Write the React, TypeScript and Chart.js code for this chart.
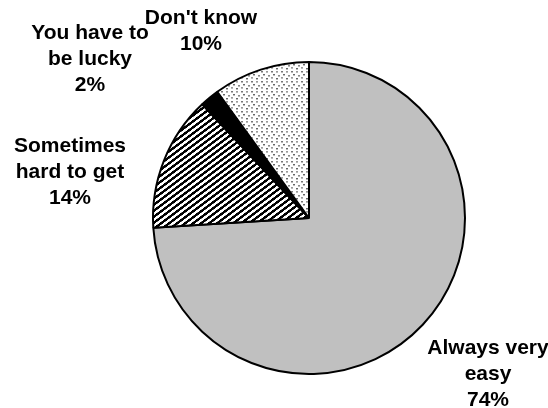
import React, { useEffect, useRef } from "react";
import { Chart, registerables } from "chart.js";

Chart.register(...registerables);

// Survey answers, clockwise from 12 o'clock
const categories = ["Always very easy", "Sometimes hard to get", "You have to be lucky", "Don't know"];
const shares = [74, 14, 2, 10];
// label lines (category text wrapped as drawn)
const labelLines = [
  ["Always very", "easy"],
  ["Sometimes", "hard to get"],
  ["You have to", "be lucky"],
  ["Don't know"],
];

// where each label block is centred (top line centre)
const labelAnchors = [
  { x: 488, y: 348 },
  { x: 70, y: 146 },
  { x: 90, y: 33 },
  { x: 201, y: 18 },
];

function makeHatch(): CanvasPattern | string {
  const c = document.createElement("canvas");
  c.width = 8;
  c.height = 6;
  const ctx = c.getContext("2d");
  if (!ctx) return "#000";
  const img = ctx.createImageData(8, 6);
  for (let y = 0; y < 6; y++) {
    for (let x = 0; x < 8; x++) {
      const ph = ((y + 0.75 * x) % 6) / 6;
      // soft edges
      let v = 255;
      if (ph < 0.42) v = 0;
      else if (ph < 0.5) v = 110;
      else if (ph > 0.92) v = 140;
      const i = (y * 8 + x) * 4;
      img.data[i] = v;
      img.data[i + 1] = v;
      img.data[i + 2] = v;
      img.data[i + 3] = 255;
    }
  }
  ctx.putImageData(img, 0, 0);
  return ctx.createPattern(c, "repeat") || "#000";
}

function makeDots(): CanvasPattern | string {
  const c = document.createElement("canvas");
  c.width = 10;
  c.height = 10;
  const ctx = c.getContext("2d");
  if (!ctx) return "#ddd";
  ctx.fillStyle = "#fff";
  ctx.fillRect(0, 0, 10, 10);
  const dots = [
    [1, 1, "#777"],
    [6, 1, "#999"],
    [3, 4, "#666"],
    [8, 5, "#888"],
    [1, 7, "#999"],
    [6, 8, "#666"],
  ] as const;
  for (const [x, y, col] of dots) {
    ctx.fillStyle = col;
    ctx.fillRect(x, y, 2, 1);
    ctx.fillStyle = "#bbb";
    ctx.fillRect(x, y + 1, 2, 1);
  }
  return ctx.createPattern(c, "repeat") || "#ddd";
}

const pieLabels = {
  id: "pieLabels",
  afterDraw(chart: Chart) {
    const ctx = chart.ctx;
    ctx.save();
    ctx.fillStyle = "#000";
    ctx.font = "bold 21px 'Liberation Sans', Arial, sans-serif";
    ctx.textAlign = "center";
    ctx.textBaseline = "middle";
    const lh = 26;
    shares.forEach((v, i) => {
      const lines = [...labelLines[i], `${v}%`];
      const a = labelAnchors[i];
      lines.forEach((t, k) => ctx.fillText(t, a.x, a.y + k * lh));
    });
    ctx.restore();
  },
};

export default function App() {
  const ref = useRef<HTMLCanvasElement>(null);
  useEffect(() => {
    if (!ref.current) return;
    const chart = new Chart(ref.current, {
      type: "pie",
      data: {
        labels: categories,
        datasets: [
          {
            data: shares,
            backgroundColor: ["#c0c0c0", makeHatch(), "#000000", makeDots()],
            borderColor: "#000",
            borderWidth: 2,
          },
        ],
      },
      options: {
        animation: false,
        responsive: false,
        layout: { padding: { left: 152, right: 82, top: 61, bottom: 33 } },
        plugins: {
          legend: { display: false },
          tooltip: { enabled: false },
        },
      },
      plugins: [pieLabels],
    });
    return () => chart.destroy();
  }, []);
  return (
    <div style={{ position: "absolute", left: 0, top: 0, width: 548, height: 408, background: "#fff" }}>
      <canvas ref={ref} width={548} height={408} />
    </div>
  );
}
